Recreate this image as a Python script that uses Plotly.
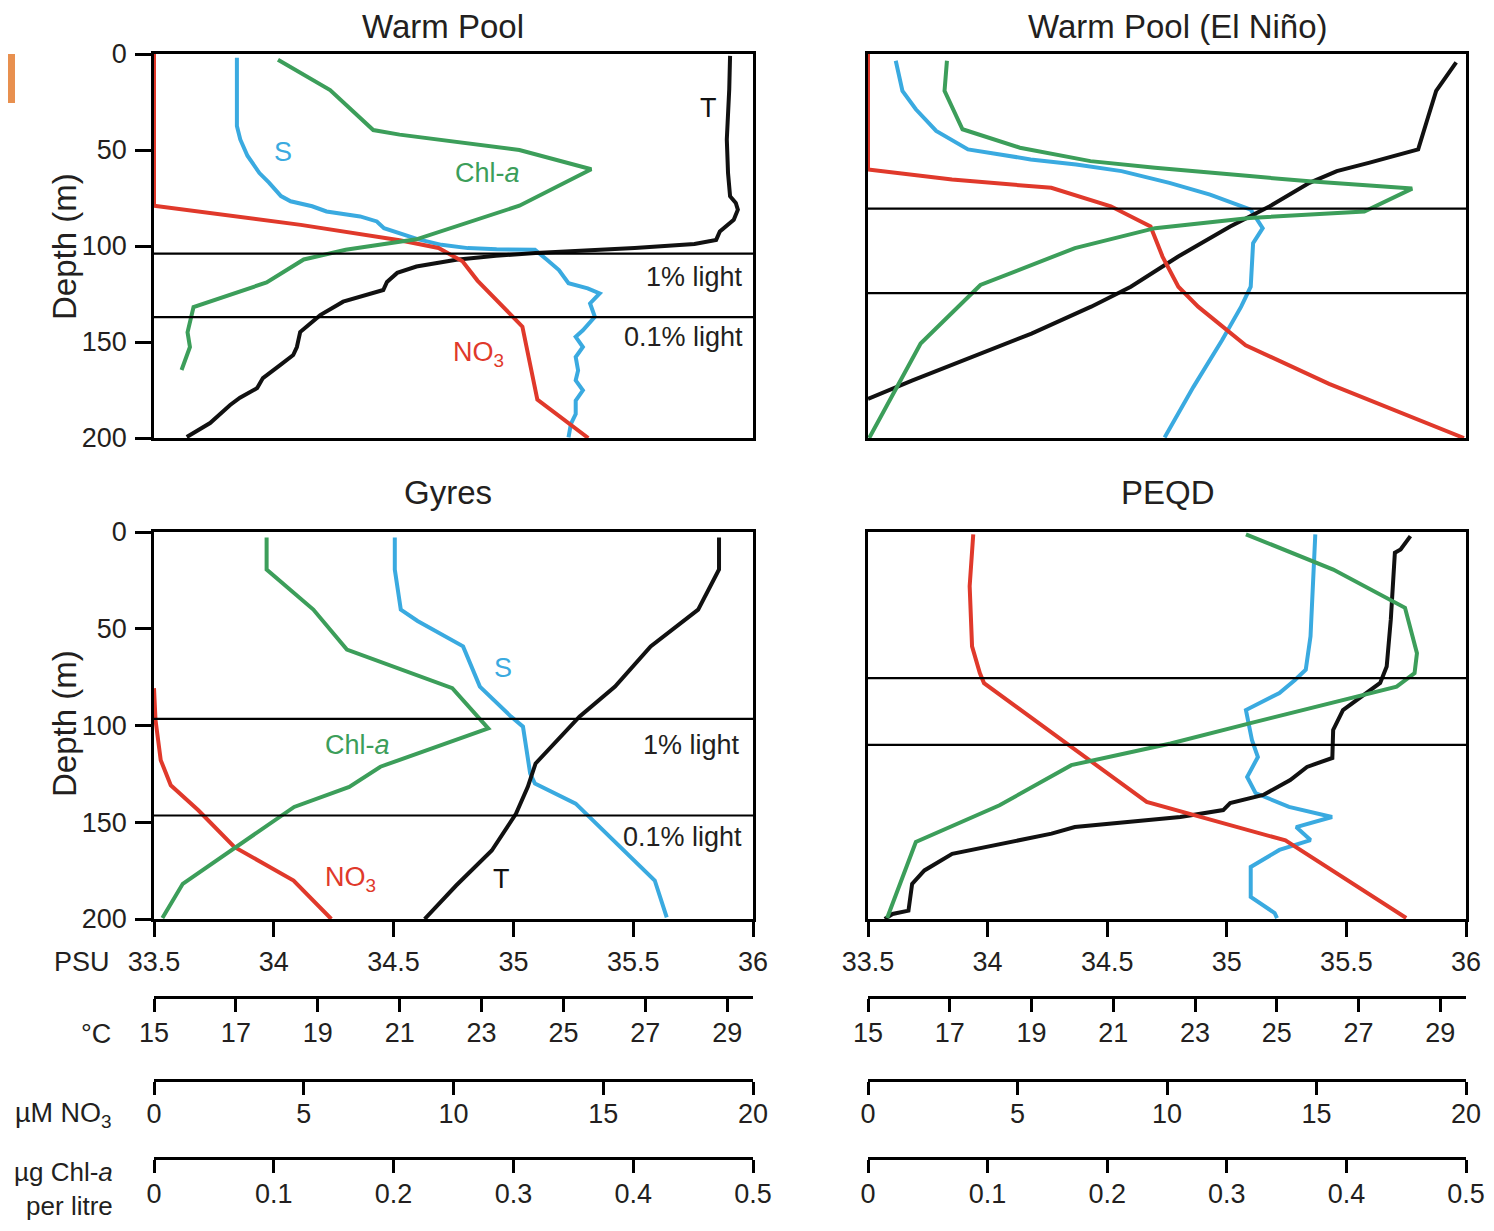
import plotly.graph_objects as go

# ---------------- data (depth in m) ----------------
# Panel 1: Warm Pool
wp_S_depth = [2, 37.5, 44.5, 53, 62, 67, 74, 76.7, 79.3, 82, 84.6, 87.2, 90.7, 93.3, 96.4, 99.4, 101.1, 101.7, 102,
              107.2, 112.5, 119.4, 122.1, 124.7, 129.9, 136.9, 143.9, 147.3, 152.6, 157.8, 164.8, 170, 175.2, 180.5, 187.5, 192.7, 199.7]
wp_S = [33.846, 33.846, 33.86, 33.89, 33.94, 33.98, 34.03, 34.07, 34.16, 34.22, 34.36, 34.43, 34.46, 34.53, 34.60, 34.70, 34.81, 34.93, 35.09,
        35.14, 35.19, 35.23, 35.31, 35.36, 35.32, 35.34, 35.29, 35.26, 35.29, 35.26, 35.27, 35.26, 35.29, 35.26, 35.26, 35.24, 35.23]
wp_T_depth = [1, 18.3, 44.5, 61.9, 74.1, 77.6, 81.1, 86.3, 92.4, 96.8, 98.9, 101.1, 103.7, 105.1, 107.2, 110.7, 114, 118.7, 122.9,
              129, 136, 144.8, 152.6, 156.8, 162, 168.8, 174, 179, 182.8, 192.2, 199.5]
wp_T = [29.07, 29.05, 28.99, 29.02, 29.07, 29.21, 29.26, 29.16, 28.82, 28.73, 28.20, 26.74, 24.32, 23.35, 22.38, 21.41, 20.94, 20.69, 20.60,
        19.62, 19.06, 18.57, 18.49, 18.40, 18.08, 17.66, 17.52, 17.10, 16.86, 16.37, 15.80]
wp_NO3_depth = [0, 79, 89, 97, 101, 108, 118, 137, 142, 180, 200]
wp_NO3 = [0, 0, 4.9, 8.2, 9.5, 10.3, 10.8, 12.0, 12.3, 12.8, 14.5]
wp_Chl_depth = [3, 18.8, 39.6, 42, 50, 60, 79, 96.5, 102, 107, 119, 131.8, 145, 152.6, 164.6]
wp_Chl = [0.1035, 0.147, 0.183, 0.205, 0.305, 0.365, 0.305, 0.219, 0.16, 0.125, 0.094, 0.033, 0.028, 0.030, 0.023]

# Panel 2: Warm Pool (El Nino)
en_S_depth = [3.5, 19.2, 28.8, 40.1, 49.7, 54.9, 57.5, 61, 67.1, 73.2, 81.1, 90.7, 98.5, 121.2, 131.6, 149.1, 173.5, 199.7]
en_S = [33.616, 33.644, 33.70, 33.785, 33.918, 34.18, 34.37, 34.56, 34.76, 34.93, 35.10, 35.15, 35.11, 35.10, 35.06, 34.98, 34.86, 34.74]
en_T_depth = [4.4, 19.2, 32.3, 49.7, 56.7, 61, 67.1, 79.3, 89.8, 105.5, 121.2, 131.6, 145.6, 157.8, 170, 179.6]
en_T = [29.39, 28.90, 28.71, 28.46, 27.25, 26.47, 25.80, 24.83, 23.86, 22.59, 21.43, 20.46, 19.00, 17.54, 16.09, 15.0]
en_NO3_depth = [0, 60.2, 65.4, 69.7, 79.3, 89.8, 105.5, 121.2, 131.6, 151.7, 171.8, 200]
en_NO3 = [0, 0, 2.81, 6.13, 8.12, 9.45, 9.85, 10.38, 11.04, 12.63, 15.42, 19.93]
en_Chl_depth = [3.5, 19.2, 39.2, 48.8, 55.8, 59.3, 63.6, 66.3, 70.1, 82, 85.4, 90.7, 101.1, 120.3, 150.8, 200]
en_Chl = [0.066, 0.064, 0.079, 0.127, 0.186, 0.240, 0.319, 0.369, 0.455, 0.415, 0.319, 0.240, 0.173, 0.094, 0.044, 0.001]

# Panel 3: Gyres
gy_S_depth = [2.9, 19.4, 40.1, 46, 59.1, 79.9, 95.4, 100.6, 124.8, 130, 140.4, 155.9, 180.1, 199.1]
gy_S = [34.505, 34.505, 34.53, 34.60, 34.79, 34.86, 34.99, 35.04, 35.07, 35.09, 35.26, 35.39, 35.59, 35.64]
gy_T_depth = [2.9, 19.4, 40.1, 59.1, 79.9, 95.4, 119.6, 131.7, 145.6, 164.6, 182.7, 200]
gy_T = [28.80, 28.80, 28.29, 27.13, 26.26, 25.39, 24.32, 24.13, 23.84, 23.25, 22.38, 21.61]
gy_NO3_depth = [80.7, 97.1, 117.9, 130.9, 143.8, 162.8, 180.1, 200]
gy_NO3 = [0, 0.05, 0.225, 0.56, 1.48, 2.68, 4.66, 5.92]
gy_Chl_depth = [2.9, 19.4, 40.1, 60.8, 80.7, 101.5, 121.3, 131.7, 142.1, 181.8, 199.5]
gy_Chl = [0.094, 0.094, 0.133, 0.161, 0.249, 0.279, 0.189, 0.163, 0.117, 0.024, 0.007]

# Panel 4: PEQD
pq_S_depth = [1.2, 28, 53.9, 71.2, 76.5, 83.2, 92, 107.5, 116.3, 126.6, 134.9, 142.1, 147.3, 152.5, 159.2, 164.3, 173.1, 188.6, 196.9, 199.5]
pq_S = [35.37, 35.36, 35.35, 35.33, 35.285, 35.22, 35.08, 35.105, 35.13, 35.085, 35.12, 35.26, 35.44, 35.29, 35.35, 35.22, 35.10, 35.10, 35.20, 35.21]
pq_T_depth = [2.1, 9, 10.7, 28, 45.3, 69.5, 78, 92, 102.3, 116.8, 121.4, 128.2, 135.9, 140.1, 143.7, 147.3, 152.5, 155.9, 162.8, 166.3,
              174.9, 181.8, 195.7, 197.4, 200]
pq_T = [28.27, 28.03, 27.89, 27.84, 27.79, 27.69, 27.53, 26.62, 26.38, 26.36, 25.74, 25.33, 24.67, 23.86, 23.69, 22.64, 20.06, 19.49, 17.84, 17.06,
        16.38, 16.08, 15.99, 15.60, 15.41]
pq_NO3_depth = [1.2, 28, 59.1, 72.9, 78.1, 109.2, 139.5, 159.4, 199.5]
pq_NO3 = [3.52, 3.40, 3.48, 3.74, 3.88, 6.66, 9.32, 13.96, 18.0]
pq_Chl_depth = [1.2, 19.4, 39.2, 62.6, 72.9, 79.9, 98.9, 109.3, 120.5, 141.2, 160.2, 199.5]
pq_Chl = [0.316, 0.389, 0.449, 0.459, 0.457, 0.442, 0.319, 0.253, 0.170, 0.110, 0.040, 0.016]

# light levels (1 %, 0.1 %) per panel
light_depths = [[104, 137], [80.5, 124.5], [96.6, 146.5], [75.5, 110]]
panel_titles = ["Warm Pool", "Warm Pool (El Niño)", "Gyres", "PEQD"]

# axes
depth_ticks = [0, 50, 100, 150, 200]
psu_ticks = [33.5, 34, 34.5, 35, 35.5, 36]
psu_text = ["33.5", "34", "34.5", "35", "35.5", "36"]
t_ticks = [15, 17, 19, 21, 23, 25, 27, 29]
no3_ticks = [0, 5, 10, 15, 20]
chl_ticks = [0, 0.1, 0.2, 0.3, 0.4, 0.5]
chl_text = ["0", "0.1", "0.2", "0.3", "0.4", "0.5"]
PSU_RANGE = [33.5, 36]
T_RANGE = [15, 29.63]
NO3_RANGE = [0, 20]
CHL_RANGE = [0, 0.5]
DEPTH_RANGE = [200, 0]

# ---------------- style ----------------
C_S = "#3AAAE0"
C_T = "#111111"
C_NO3 = "#E0392B"
C_CHL = "#3C9E5A"
TXT = "#231F20"
FONT = "Liberation Sans, Arial, sans-serif"
LW = 4
FRAME = 2.5

OFF = 8
FW, FH = 1494 - 2 * OFF, 1231 - 2 * OFF


def PX(x):
    return (x - OFF) / FW


def PY(y):
    return 1 - (y - OFF) / FH


col_dom = [[PX(154), PX(753)], [PX(868), PX(1466)]]
row_dom = [[PY(438), PY(54)], [PY(919), PY(532)]]

panels = [
    (wp_S_depth, wp_S, wp_T_depth, wp_T, wp_NO3_depth, wp_NO3, wp_Chl_depth, wp_Chl),
    (en_S_depth, en_S, en_T_depth, en_T, en_NO3_depth, en_NO3, en_Chl_depth, en_Chl),
    (gy_S_depth, gy_S, gy_T_depth, gy_T, gy_NO3_depth, gy_NO3, gy_Chl_depth, gy_Chl),
    (pq_S_depth, pq_S, pq_T_depth, pq_T, pq_NO3_depth, pq_NO3, pq_Chl_depth, pq_Chl),
]

fig = go.Figure()
layout = dict(
    width=FW, height=FH, autosize=False,
    margin=dict(l=0, r=0, t=0, b=0, pad=0, autoexpand=False),
    paper_bgcolor="white", plot_bgcolor="white",
    font=dict(family=FONT, size=27, color=TXT),
    showlegend=False,
)


def xname(n):
    return "xaxis" if n == 1 else f"xaxis{n}"


def xref(n):
    return "x" if n == 1 else f"x{n}"


def yname(n):
    return "yaxis" if n == 1 else f"yaxis{n}"


def yref(n):
    return "y" if n == 1 else f"y{n}"


tickfont = dict(family=FONT, size=27, color=TXT)
shapes = []
annotations = []

# bottom-axis line positions (screen px) and label standoffs
free_pos = {"T": 997, "NO3": 1080, "CHL": 1158}
free_standoff = {"T": -2, "NO3": -4, "CHL": -2}

for i, pdata in enumerate(panels):
    row, col = divmod(i, 2)
    bottom = row == 1
    left = col == 0
    base = 4 * i + 1
    yn = i + 1
    xd = col_dom[col]
    yd = row_dom[row]

    # salinity axis (main frame)
    sx = dict(domain=xd, range=PSU_RANGE, anchor=yref(yn), showgrid=False, zeroline=False, automargin=False,
              showline=True, linecolor="black", linewidth=FRAME, mirror=True, fixedrange=True)
    if bottom:
        sx.update(ticks="outside", ticklen=15, tickwidth=FRAME, tickcolor="black",
                  tickvals=psu_ticks, ticktext=psu_text, showticklabels=True, tickfont=tickfont,
                  ticklabelstandoff=2)
    else:
        sx.update(ticks="", showticklabels=False)
    layout[xname(base)] = sx

    for k, (key, rng, tv, tt) in enumerate([
        ("T", T_RANGE, t_ticks, [str(v) for v in t_ticks]),
        ("NO3", NO3_RANGE, no3_ticks, [str(v) for v in no3_ticks]),
        ("CHL", CHL_RANGE, chl_ticks, chl_text),
    ]):
        ax = dict(domain=xd, range=rng, overlaying=xref(base), showgrid=False, zeroline=False,
                  automargin=False, fixedrange=True)
        if bottom:
            ax.update(anchor="free", position=PY(free_pos[key]), side="bottom", showline=True,
                      linecolor="black", linewidth=FRAME, ticks="outside", ticklen=13, tickwidth=FRAME,
                      tickcolor="black", tickvals=tv, ticktext=tt, tickfont=tickfont,
                      ticklabelstandoff=free_standoff[key])
        else:
            ax.update(anchor=yref(yn), visible=False)
        layout[xname(base + k + 1)] = ax

    ya = dict(domain=yd, range=DEPTH_RANGE, anchor=xref(base), showgrid=False, zeroline=False, automargin=False,
              showline=True, linecolor="black", linewidth=FRAME, mirror=True, fixedrange=True)
    if left:
        ya.update(ticks="outside", ticklen=16, tickwidth=FRAME, tickcolor="black",
                  tickvals=depth_ticks, ticktext=[str(v) for v in depth_ticks],
                  tickfont=tickfont, ticklabelstandoff=3)
    else:
        ya.update(ticks="", showticklabels=False)
    layout[yname(yn)] = ya

    Sd, S, Td, T, Nd, N, Cd, C = pdata
    for xs, ds, color, axn in [(N, Nd, C_NO3, base + 2), (C, Cd, C_CHL, base + 3),
                               (S, Sd, C_S, base), (T, Td, C_T, base + 1)]:
        fig.add_trace(go.Scatter(x=xs, y=ds, mode="lines", xaxis=xref(axn), yaxis=yref(yn),
                                 line=dict(color=color, width=LW), hoverinfo="skip", showlegend=False))

    for d in light_depths[i]:
        shapes.append(dict(type="line", xref=f"{xref(base)} domain", x0=0, x1=1, yref=yref(yn), y0=d, y1=d,
                           line=dict(color="black", width=2.2), layer="above"))

# titles
for (tx, ty), t in zip([(443, 27), (1178, 27), (448, 492), (1168, 492)], panel_titles):
    annotations.append(dict(text=t, x=PX(tx), y=PY(ty), xref="paper", yref="paper", showarrow=False,
                            xanchor="center", yanchor="middle", borderpad=0, font=dict(size=33, color=TXT)))


def lab(text, x, y, color, xanchor="center", size=27):
    annotations.append(dict(text=text, x=PX(x), y=PY(y), xref="paper", yref="paper", showarrow=False,
                            xanchor=xanchor, yanchor="middle", font=dict(size=size, color=color)))


# in-panel labels
lab("T", 708, 108, C_T)
lab("S", 283, 152, C_S)
lab("Chl-<i>a</i>", 487, 173, C_CHL)
lab("1% light", 745, 277, TXT, "right")
lab("0.1% light", 745, 337, TXT, "right")
lab("NO<sub>3</sub>", 478, 354, C_NO3)
lab("S", 503, 668, C_S)
lab("Chl-<i>a</i>", 357, 745, C_CHL)
lab("1% light", 742, 745, TXT, "right")
lab("0.1% light", 744, 837, TXT, "right")
lab("NO<sub>3</sub>", 350, 879, C_NO3)
lab("T", 501, 879, C_T)

# axis titles
lab("PSU", 112, 962, TXT, "right")
lab("°C", 113, 1034, TXT, "right")
lab("µM NO<sub>3</sub>", 114, 1115, TXT, "right")
annotations.append(dict(text="µg Chl-<i>a</i><br>per litre", x=PX(114), y=PY(1222), xref="paper", yref="paper",
                        showarrow=False, xanchor="right", yanchor="bottom", align="right", borderpad=0,
                        font=dict(size=26, color=TXT)))
for yy in (247, 724):
    annotations.append(dict(text="Depth (m)", x=PX(64), y=PY(yy), xref="paper", yref="paper", showarrow=False,
                            textangle=-90, xanchor="center", yanchor="middle", font=dict(size=33, color=TXT)))

# orange marker at top-left
shapes.append(dict(type="rect", xref="paper", yref="paper", x0=PX(-10), x1=PX(15), y0=PY(103), y1=PY(54),
                   fillcolor="#E8904F", line=dict(width=0), layer="above"))

layout["shapes"] = shapes
layout["annotations"] = annotations
fig.update_layout(**layout)
fig.write_html("out.html")
